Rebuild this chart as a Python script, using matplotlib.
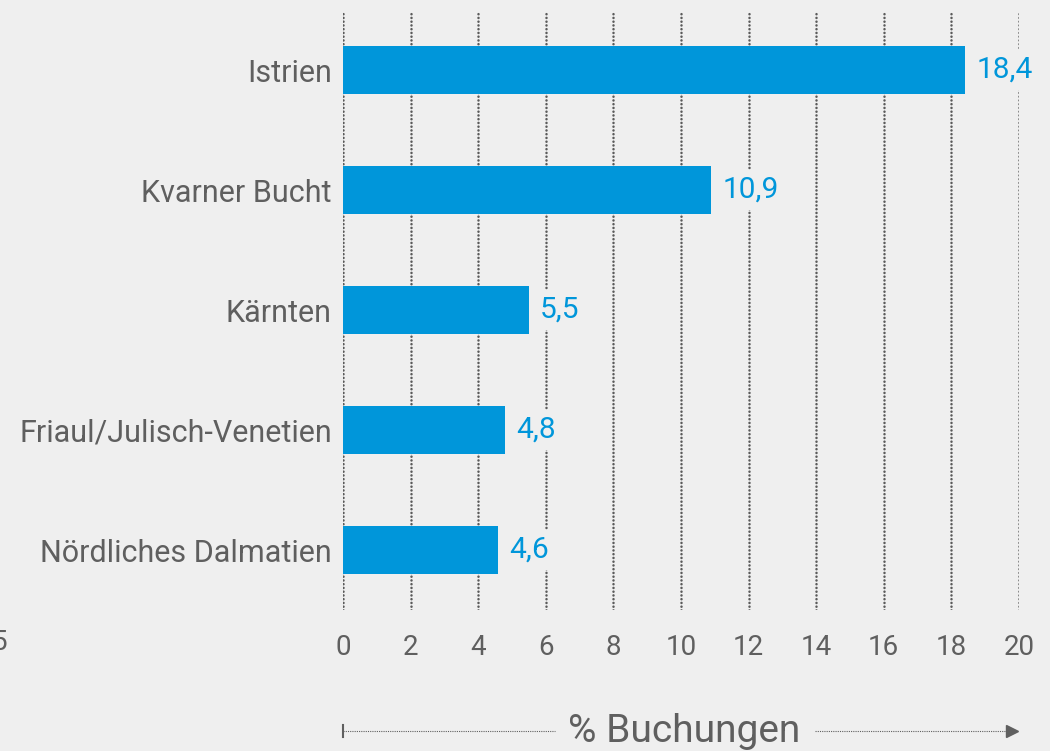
import matplotlib.pyplot as plt
from matplotlib.lines import Line2D

# data, bottom to top
regions = ["Nördliches Dalmatien", "Friaul/Julisch-Venetien", "Kärnten",
           "Kvarner Bucht", "Istrien"]
shares = [4.6, 4.8, 5.5, 10.9, 18.4]
xticks = [0, 2, 4, 6, 8, 10, 12, 14, 16, 18, 20]

bg = "#efefef"
blue = "#0096da"
grey = "#5f5f5f"

plt.rcParams['font.family'] = ['Roboto', 'DejaVu Sans']

fig = plt.figure(figsize=(10.5, 7.51), dpi=100, facecolor=bg)
ax = fig.add_axes([343/1050, 1 - 610/751, 676/1050, 600/751])
ax.set_facecolor(bg)

ypos = list(range(len(regions)))
ax.barh(ypos, shares, height=0.4, color=blue, zorder=3)
for y, v in zip(ypos, shares):
    ax.text(v + 0.33, y, ("%.1f" % v).replace(".", ","), color=blue,
            fontsize=21.5, va="center", ha="left", zorder=4,
            bbox=dict(facecolor=bg, edgecolor="none", pad=4.5))

for x in xticks:
    ax.axvline(x, color="#5a5a5a", lw=1.8, linestyle=(0, (0.05, 1.45)),
               dash_capstyle="round", zorder=2)

ax.set_xlim(0, 20)
ax.set_ylim(-0.5, 4.5)
ax.set_xticks(xticks)
ax.set_xticklabels([str(x) for x in xticks])
ax.set_yticks(ypos)
ax.set_yticklabels(regions, fontsize=22)
ax.tick_params(axis="both", length=0, colors=grey)
ax.tick_params(axis="x", pad=17, labelsize=20)
ax.tick_params(axis="y", pad=8)
for s in ax.spines.values():
    s.set_visible(False)

# axis title with dotted arrow
ya = 1 - 731/751
fig.add_artist(Line2D([343/1050, 343/1050], [ya - 6/751, ya + 6/751],
                      color=grey, lw=1.5))
fig.add_artist(Line2D([343/1050, 555/1050], [ya, ya], color=grey, lw=0.8,
                      linestyle=(0, (1, 1))))
fig.add_artist(Line2D([815/1050, 1008/1050], [ya, ya], color=grey, lw=0.8,
                      linestyle=(0, (1, 1))))
fig.add_artist(Line2D([1012/1050], [ya], marker=">", markersize=9,
                      color=grey, linestyle="none"))
fig.text(684/1050, ya, "% Buchungen", color=grey, fontsize=28,
         ha="center", va="center")

# cut-off label from the neighbouring chart
fig.text(8/1050, 1 - 643/751, "5", color=grey, fontsize=20,
         ha="right", va="center")

fig.savefig("out.png", dpi=100, facecolor=bg)
